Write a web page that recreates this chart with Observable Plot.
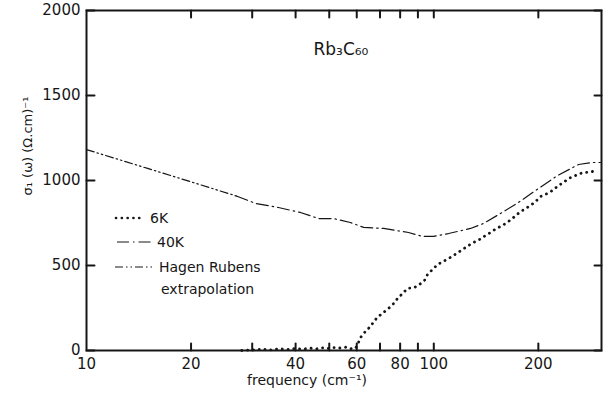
<!DOCTYPE html>
<html><head><meta charset="utf-8">
<script src="https://cdn.jsdelivr.net/npm/d3@7"></script>
<script src="https://cdn.jsdelivr.net/npm/@observablehq/plot@0.6"></script>
<style>body{margin:0;background:#fff}</style>
</head><body><div id="chart"></div><script>
// Hagen-Rubens extrapolation (low-frequency part of 40K curve)
const hrFreq  = [10, 15, 20, 27];
const hrSigma = [1182, 1071, 992, 909];
// 40 K
const k40Freq  = [27, 30.7, 35.7, 41.3, 46.6, 51.4, 57.5, 62.8, 71.7, 84.6, 92.8, 99.8, 110.3, 127.6, 139, 155.6, 175.4, 196.3, 227, 261, 286, 302];
const k40Sigma = [909, 865, 841, 812, 776, 776, 753, 724, 718, 694, 671, 671, 688, 718, 747, 806, 871, 941, 1029, 1094, 1106, 1106];
// 6 K
const k6Freq  = [28, 30, 32, 34, 36, 38, 40, 42, 44, 46, 48, 50, 52, 54, 56, 58, 59.5, 60.7, 61.5, 62.8, 64.4, 66.1, 67.1, 69.3, 71.7, 74.6, 76.6, 78.6, 81.3, 84, 88, 90.9, 94, 95.9, 99.1, 102.5, 106.6, 110.3, 114, 121, 125.9, 130.1, 135.4, 140.9, 145.6, 151.5, 157.7, 164.1, 169.6, 176.5, 183.7, 189.9, 196.3, 202.9, 212.5, 219.7, 228.6, 236.3, 244.3, 252.5, 262.8, 273.5, 286.4, 296];
const k6Sigma = [0, 3, 8, 4, 10, 6, 12, 8, 14, 10, 16, 12, 18, 14, 20, 10, 12, 47, 76, 100, 124, 147, 171, 200, 224, 253, 276, 306, 335, 365, 371, 388, 412, 447, 476, 506, 524, 541, 559, 594, 618, 635, 653, 676, 694, 718, 735, 759, 782, 812, 835, 853, 876, 906, 924, 941, 971, 988, 1012, 1024, 1041, 1047, 1053, 1059];

const yTicks = [0, 500, 1000, 1500, 2000];
const xLabelTicks = [10, 20, 40, 60, 80, 100, 200];
const xMinorTicks = [20, 30, 40, 50, 60, 70, 80, 90, 100, 200];
const titleText = "Rb₃C₆₀";
const xLabel = "frequency (cm⁻¹)";
const yLabel = "σ₁ (ω) (Ω.cm)⁻¹";
const legendLabels = ["6K", "40K", "Hagen Rubens", "extrapolation"];

const hr = hrFreq.map((f, i) => ({f, s: hrSigma[i]}));
const k40 = k40Freq.map((f, i) => ({f, s: k40Sigma[i]}));
const k6 = k6Freq.map((f, i) => ({f, s: k6Sigma[i]}));

const W = 606, H = 394, mL = 86, mR = 5, mT = 10, mB = 44;
const ink = "#161616";
const dash40 = "12,4,1.5,4";
const dashHR = "8,3,1.5,3,1.5,3";
const dotted = "0.1,5.7";

// straight tick shape for vector marks (inward ticks)
const tickShape = {draw(context, l) { context.moveTo(0, 0); context.lineTo(0, -l); }};
const inTick = (data, ch, anchor, rot, len) =>
  Plot.vector(data, {[ch]: d => d, frameAnchor: anchor, rotate: rot, length: len, anchor: "start",
    shape: tickShape, stroke: ink, strokeWidth: 2});

const plot = Plot.plot({
  width: W, height: H,
  marginLeft: mL, marginRight: mR, marginTop: mT, marginBottom: mB,
  style: {fontFamily: "DejaVu Sans, sans-serif", fontSize: "14px", color: ink, background: "#fff"},
  x: {type: "log", domain: [10, 304]},
  y: {domain: [0, 2000]},
  marks: [
    Plot.line(hr, {x: "f", y: "s", stroke: ink, strokeWidth: 1.2, strokeDasharray: dashHR}),
    Plot.line(k40, {x: "f", y: "s", stroke: ink, strokeWidth: 1.2, strokeDasharray: dash40}),
    Plot.line(k6, {x: "f", y: "s", stroke: ink, strokeWidth: 2.8, strokeLinecap: "round", strokeDasharray: dotted}),
    inTick(yTicks, "y", "left", 90, 8),
    inTick(yTicks, "y", "right", -90, 7),
    inTick(xMinorTicks, "x", "bottom", 0, 7),
    inTick(xMinorTicks, "x", "top", 180, 7),
    Plot.frame({stroke: ink, strokeWidth: 2}),
    Plot.axisY({ticks: yTicks, anchor: "left", tickSize: 0, tickPadding: 6, tickFormat: d => String(d), label: null, fontSize: 15, fill: ink}),
    Plot.axisX({ticks: xLabelTicks, anchor: "bottom", tickSize: 0, tickPadding: 8, tickFormat: d => String(d), label: null, fontSize: 15, fill: ink}),
    Plot.text([xLabel], {frameAnchor: "bottom", dx: -37, dy: 34, fontSize: 14, fill: ink}),
    Plot.text([yLabel], {frameAnchor: "left", rotate: -90, dx: -59, dy: 15, fontSize: 13, fill: ink}),
    Plot.text([titleText], {frameAnchor: "top-left", textAnchor: "start", dx: 227, dy: 32, fontSize: 17, fill: ink})
  ]
});
document.getElementById("chart").appendChild(plot);

// legend inside the frame
const svg = d3.select(plot);
const lg = svg.append("g").attr("fill", ink).attr("font-size", 14)
  .attr("font-family", "DejaVu Sans, sans-serif").attr("text-anchor", "start");
const items = [
  {x1: 116, x2: 144, y: 218, dash: dotted, w: 2.6, cap: "round", tx: 150, label: legendLabels[0]},
  {x1: 117, x2: 153, y: 242, dash: dash40, w: 1.2, cap: "butt", tx: 157, label: legendLabels[1]},
  {x1: 115, x2: 153, y: 267, dash: dashHR, w: 1.2, cap: "butt", tx: 159, label: legendLabels[2]}
];
items.forEach(it => {
  lg.append("line").attr("x1", it.x1).attr("x2", it.x2).attr("y1", it.y).attr("y2", it.y)
    .attr("stroke", ink).attr("stroke-width", it.w).attr("stroke-linecap", it.cap).attr("stroke-dasharray", it.dash);
  lg.append("text").attr("x", it.tx).attr("y", it.y).attr("dy", "0.35em").attr("text-anchor", "start").text(it.label);
});
lg.append("text").attr("x", 161).attr("y", 289).attr("dy", "0.35em").attr("text-anchor", "start").text(legendLabels[3]);
</script></body></html>
